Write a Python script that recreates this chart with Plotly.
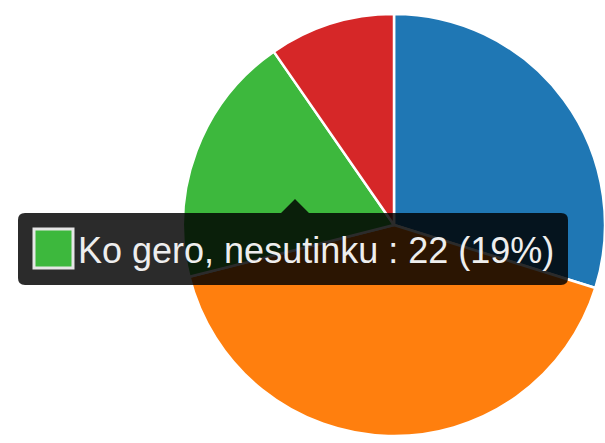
import plotly.graph_objects as go

# Survey answers and their counts
labels = ["Visiškai sutinku", "Ko gero, sutinku", "Ko gero, nesutinku", "Visiškai nesutinku"]
counts = [34, 47, 22, 11]
colors = ["#1f77b4", "#ff7f0e", "#3db83d", "#d62728"]

# Slice that the tooltip describes
focus = 2

W, H = 605, 443


def px(x):
    return x / W


def py(y):
    return 1 - y / H


# Pie placement in pixels (centre and radius)
cx, cy, r = 394, 225, 211

fig = go.Figure(
    go.Pie(
        labels=labels,
        values=counts,
        sort=False,
        direction="clockwise",
        rotation=0,
        textinfo="none",
        hoverinfo="none",
        marker=dict(colors=colors, line=dict(color="white", width=2.5)),
        domain=dict(x=[px(cx - r), min(1.0, px(cx + r))], y=[py(cy + r), py(cy - r)]),
        showlegend=False,
    )
)

# Tooltip box: rounded rectangle with a small arrow on its top edge
x0, x1, y0, y1, rad = 18, 568, 213, 285, 7
ax, aw, ah = 295, 14, 14
pts = [
    f"M {px(x0 + rad)},{py(y0)}",
    f"L {px(ax - aw)},{py(y0)}",
    f"L {px(ax)},{py(y0 - ah)}",
    f"L {px(ax + aw)},{py(y0)}",
    f"L {px(x1 - rad)},{py(y0)}",
    f"Q {px(x1)},{py(y0)} {px(x1)},{py(y0 + rad)}",
    f"L {px(x1)},{py(y1 - rad)}",
    f"Q {px(x1)},{py(y1)} {px(x1 - rad)},{py(y1)}",
    f"L {px(x0 + rad)},{py(y1)}",
    f"Q {px(x0)},{py(y1)} {px(x0)},{py(y1 - rad)}",
    f"L {px(x0)},{py(y0 + rad)}",
    f"Q {px(x0)},{py(y0)} {px(x0 + rad)},{py(y0)}",
    "Z",
]
fig.add_shape(
    type="path",
    path=" ".join(pts),
    xref="paper",
    yref="paper",
    fillcolor="rgba(0,0,0,0.83)",
    line=dict(width=0),
    layer="above",
)

# Colour swatch of the described slice
fig.add_shape(
    type="rect",
    xref="paper",
    yref="paper",
    x0=px(34),
    x1=px(73),
    y0=py(268),
    y1=py(229),
    fillcolor=colors[focus],
    line=dict(color="#e6e6e6", width=3),
    layer="above",
)

total = sum(counts)
share = round(100 * counts[focus] / total)
fig.add_annotation(
    text=f"{labels[focus]} : {counts[focus]} ({share}%)",
    xref="paper",
    yref="paper",
    x=px(76),
    y=py(250),
    xanchor="left",
    yanchor="middle",
    showarrow=False,
    font=dict(family="Liberation Sans, Arial, sans-serif", size=36, color="#eeeeee"),
)

fig.update_layout(
    width=W,
    height=H,
    margin=dict(l=0, r=0, t=0, b=0),
    paper_bgcolor="white",
    plot_bgcolor="white",
)

fig.write_html("out.html")
